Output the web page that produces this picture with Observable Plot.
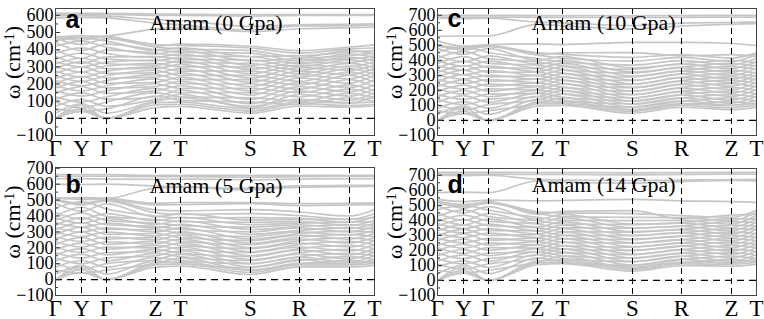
<!DOCTYPE html>
<html><head><meta charset="utf-8">
<script src="https://cdn.jsdelivr.net/npm/d3@7"></script>
<script src="https://cdn.jsdelivr.net/npm/@observablehq/plot@0.6"></script>
<style>
body{margin:0;background:#fff;font-family:"Liberation Serif",serif;}
#wrap{position:relative;width:764px;height:319px;overflow:hidden;background:#fff;}
.panel{position:absolute;}
.panel text{font-family:"Liberation Serif",serif;}
.panel text.sansb{font-family:"Liberation Sans",sans-serif;font-weight:bold;}
</style></head><body><div id="wrap"></div>
<script>
// high-symmetry path
const kLabels = ["Γ","Y","Γ","Z","T","S","R","Z","T"];
const kPos = [0, 0.26, 0.51, 1.00, 1.25, 1.95, 2.44, 2.94, 3.19];

const yTicks600 = [-100, 0, 100, 200, 300, 400, 500, 600];
const yTicks700 = [-100, 0, 100, 200, 300, 400, 500, 600, 700];
const yMinor600 = [-50, 50, 150, 250, 350, 450, 550];
const yMinor700 = [-50, 50, 150, 250, 350, 450, 550, 650];

const titles = ["Amam (0 Gpa)", "Amam (5 Gpa)", "Amam (10 Gpa)", "Amam (14 Gpa)"];
const letters = ["a", "b", "c", "d"];

// band frequencies (cm^-1) at Γ, Y, Γ, Z, T, S, R, Z, T
const bandsA = [
[0,40,0,62,70,30,72,65,72],
[0,55,0,78,82,42,85,75,82],
[0,75,0,92,95,55,95,90,95],
[30,85,30,100,120,70,110,90,130],
[55,40,55,130,105,95,80,120,100],
[70,110,70,110,140,60,140,105,150],
[95,60,95,150,125,120,100,145,115],
[110,150,110,125,165,85,160,130,170],
[125,95,125,175,150,150,125,170,140],
[145,185,145,160,190,110,185,155,195],
[160,130,160,200,175,175,150,195,160],
[175,215,178,185,215,135,210,180,225],
[190,160,190,230,200,200,170,225,185],
[205,245,205,210,240,160,235,205,250],
[220,190,220,255,225,225,195,250,210],
[232,270,235,240,265,185,255,230,270],
[248,215,248,280,250,250,215,270,235],
[262,300,262,265,290,210,275,255,290],
[275,240,275,300,275,275,240,290,255],
[290,330,290,290,315,235,295,280,310],
[302,270,305,320,300,300,260,305,275],
[318,350,318,310,335,260,310,300,330],
[330,300,328,340,325,320,280,320,295],
[345,380,345,335,355,285,325,325,350],
[360,320,358,360,345,340,300,340,315],
[380,410,378,355,375,310,340,345,365],
[400,350,398,380,365,360,320,355,335],
[420,450,415,375,395,335,350,365,380],
[440,395,432,400,385,380,335,375,355],
[455,470,450,395,410,360,365,385,395],
[468,430,465,415,405,395,355,395,375],
[472,480,475,430,425,410,380,405,410],
[475,455,478,420,432,420,395,415,428],
[478,470,480,520,528,505,522,528,532],
[585,588,585,555,545,515,538,540,545],
[598,598,595,575,570,535,545,548,550],
[605,605,605,600,600,596,600,600,600],
[612,612,612,608,606,604,604,605,605]
];
const bandsB = [
[0,45,0,78,85,32,80,80,90],
[0,62,0,92,98,45,92,92,102],
[0,82,0,105,110,58,102,105,112],
[35,90,35,118,100,75,125,95,130],
[60,40,60,100,135,60,100,120,105],
[78,120,78,140,120,100,140,110,150],
[100,65,100,125,160,80,120,145,125],
[118,160,118,165,145,120,160,130,175],
[135,100,135,150,180,100,145,165,150],
[155,195,155,190,165,145,185,155,195],
[170,135,170,175,205,125,170,190,170],
[188,230,190,215,190,170,205,180,220],
[205,170,205,200,230,150,195,215,195],
[220,265,222,240,215,195,230,205,245],
[238,205,238,225,255,175,220,240,220],
[252,300,255,265,240,220,255,230,265],
[268,240,268,250,280,200,245,262,245],
[282,330,285,290,265,245,280,255,290],
[298,270,298,275,300,228,268,285,270],
[312,360,315,315,290,270,300,280,310],
[328,300,325,300,325,255,290,305,295],
[342,390,345,335,315,300,325,300,335],
[358,330,355,325,348,285,310,325,318],
[372,420,372,355,340,330,345,320,355],
[388,355,385,348,370,315,335,345,342],
[400,455,398,378,365,360,365,340,372],
[420,380,415,370,392,345,355,362,365],
[450,490,445,400,388,390,385,360,395],
[480,430,478,395,415,375,378,380,388],
[500,470,495,420,410,415,402,378,415],
[505,480,500,438,432,440,425,400,440],
[510,505,505,470,472,478,465,470,472],
[512,515,512,480,485,485,478,480,482],
[515,512,510,575,580,565,582,585,588],
[600,598,600,588,585,575,590,592,592],
[635,635,632,630,632,628,632,635,635],
[650,650,650,648,648,645,648,650,650],
[660,660,660,655,655,655,655,655,655]
];
const bandsC = [
[0,45,0,95,100,48,88,72,90],
[0,62,0,110,112,60,100,85,102],
[0,85,0,122,125,72,112,100,115],
[40,95,40,140,115,90,130,100,135],
[65,45,65,112,150,70,105,125,110],
[82,125,82,160,135,110,150,115,160],
[105,70,105,135,175,88,128,150,130],
[122,165,122,180,155,130,170,135,180],
[140,105,140,158,198,108,150,172,155],
[158,200,158,200,178,150,192,160,205],
[175,140,175,180,220,128,172,195,178],
[192,235,195,225,200,172,215,182,230],
[210,175,210,205,245,150,195,220,200],
[225,270,228,250,222,195,240,205,255],
[242,210,242,228,268,172,220,245,225],
[258,305,260,275,245,218,262,228,280],
[272,245,272,252,290,195,242,268,248],
[288,335,290,298,268,240,285,252,302],
[302,275,302,275,312,218,265,290,270],
[318,365,320,322,290,265,308,275,325],
[335,305,332,300,335,242,288,312,292],
[350,395,352,345,315,290,330,298,348],
[365,335,362,325,358,268,310,335,315],
[380,425,380,368,340,315,352,322,370],
[398,360,395,350,380,295,332,358,340],
[415,460,412,390,365,340,375,345,392],
[432,390,430,375,402,322,355,380,362],
[455,490,452,412,390,368,398,368,415],
[480,440,478,400,425,350,378,400,385],
[495,475,492,435,415,395,420,392,438],
[500,485,498,450,440,420,438,415,450],
[505,470,500,440,450,452,430,438,425],
[530,495,505,510,505,520,520,512,500],
[560,562,562,640,630,610,628,640,645],
[680,678,680,655,650,632,648,652,655],
[688,688,688,686,686,684,686,688,688],
[700,700,700,698,698,696,698,700,700]
];
const bandsD = [
[0,48,0,105,112,62,98,95,108],
[0,66,0,118,122,75,110,108,120],
[0,88,0,130,135,88,122,120,132],
[45,100,45,150,125,100,140,115,150],
[68,48,68,122,160,80,115,140,120],
[88,130,88,172,145,125,162,128,172],
[110,75,110,145,185,102,138,162,145],
[128,170,128,192,165,148,182,150,195],
[145,110,145,168,208,125,160,185,168],
[165,205,165,212,188,172,205,172,218],
[182,145,182,190,230,150,182,208,192],
[200,240,202,235,210,198,228,195,242],
[218,180,218,215,255,175,205,232,218],
[232,275,235,258,232,222,250,218,265],
[250,215,250,238,278,200,228,255,240],
[265,310,268,282,255,248,272,240,290],
[282,250,280,262,300,225,250,278,265],
[298,340,300,305,278,272,295,262,315],
[315,285,315,285,322,250,272,300,288],
[330,372,332,330,300,298,318,285,340],
[348,315,345,308,345,275,295,322,312],
[362,405,365,352,325,322,338,308,362],
[378,345,375,332,368,300,318,345,338],
[392,435,395,375,350,348,360,330,388],
[410,370,408,355,392,325,340,368,362],
[428,470,425,398,375,372,382,352,410],
[448,400,445,380,418,350,362,392,385],
[470,500,468,420,400,398,400,375,432],
[495,450,492,405,440,375,385,412,408],
[520,490,515,445,425,420,418,398,455],
[525,505,520,458,450,445,432,420,468],
[530,480,525,440,460,465,410,435,440],
[540,525,535,530,532,540,530,525,520],
[585,588,585,662,655,648,658,665,662],
[700,698,700,672,668,665,668,670,672],
[708,708,708,705,705,702,705,708,708],
[720,720,720,718,718,716,718,720,720]
];

const panels = [
  {bands: bandsA, title: titles[0], letter: letters[0], yDomain: [-100, 640], ticks: yTicks600, minor: yMinor600,
   left: 0, top: 0, height: 160, mt: 8, mb: 25, letterBase: 19, titleBase: 21},
  {bands: bandsB, title: titles[1], letter: letters[1], yDomain: [-100, 705], ticks: yTicks700, minor: yMinor700,
   left: 0, top: 160, height: 159, mt: 7, mb: 24, letterBase: 25, titleBase: 25},
  {bands: bandsC, title: titles[2], letter: letters[2], yDomain: [-100, 745], ticks: yTicks700, minor: yMinor700,
   left: 382, top: 0, height: 160, mt: 8, mb: 25, letterBase: 18, titleBase: 21},
  {bands: bandsD, title: titles[3], letter: letters[3], yDomain: [-100, 745], ticks: yTicks700, minor: yMinor700,
   left: 382, top: 160, height: 159, mt: 8, mb: 24, letterBase: 24, titleBase: 23}
];

const serif = "Liberation Serif";
const wrap = document.getElementById("wrap");
const pxPerK = (kPos[kPos.length - 1] - kPos[0]) / 319;

for (const p of panels) {
  const rows = p.bands.flatMap((b, i) => b.map((w, j) => ({band: i, k: kPos[j], w})));
  const chart = Plot.plot({
    width: 382, height: p.height,
    marginLeft: 55, marginRight: 8, marginTop: p.mt, marginBottom: p.mb,
    style: {fontFamily: serif, fontSize: "18px", color: "#000", background: "transparent", overflow: "visible"},
    x: {domain: [kPos[0], kPos[kPos.length - 1]], axis: null},
    y: {domain: p.yDomain, label: null},
    marks: [
      Plot.line(rows, {x: "k", y: "w", z: "band", stroke: "#c6c6c6", strokeWidth: 1.7, curve: "monotone-x", clip: true}),
      Plot.ruleX(kPos.slice(1, -1), {stroke: "#000", strokeWidth: 1, strokeDasharray: "6,4"}),
      Plot.ruleY([0], {stroke: "#000", strokeWidth: 1.2, strokeDasharray: "7,5"}),
      Plot.ruleY(p.ticks, {y: d => d, x1: kPos[0], x2: kPos[0] + 5 * pxPerK, stroke: "#333"}),
      Plot.ruleY(p.minor, {y: d => d, x1: kPos[0], x2: kPos[0] + 3 * pxPerK, stroke: "#333"}),
      Plot.frame({stroke: "#444", strokeWidth: 1}),
      Plot.axisY(p.ticks, {label: null, tickSize: 0, tickPadding: 2, fontSize: 18}),
      Plot.text(kPos, {x: d => d, text: (d, i) => kLabels[i], frameAnchor: "bottom", lineAnchor: "top",
        dy: 20.5 - 0.71 * 23, fontSize: 23}),
      Plot.text([p.letter], {frameAnchor: "top-left", textAnchor: "start", lineAnchor: "top", dx: 10,
        dy: p.letterBase - 0.71 * 25, fontSize: 25}),
      Plot.text([p.title], {frameAnchor: "top-left", textAnchor: "start", lineAnchor: "top", dx: 94,
        dy: p.titleBase - 0.71 * 22, fontSize: 22})
    ]
  });
  const svg = d3.select(chart);
  // panel letter in bold sans
  svg.selectAll("text").filter(function() { return this.textContent === p.letter; })
    .attr("class", "sansb");
  // y-axis label with superscript
  const cy = (p.mt + (p.height - p.mb)) / 2 - 9;
  const lab = svg.append("text")
    .attr("transform", `translate(20,${cy}) rotate(-90)`)
    .attr("text-anchor", "middle")
    .attr("font-size", 22)
    .attr("fill", "#000");
  lab.append("tspan").text("ω (cm");
  lab.append("tspan").attr("dy", "-0.45em").attr("font-size", 14).text("-1");
  lab.append("tspan").attr("dy", "0.3em").text(")");
  chart.classList.add("panel");
  chart.style.left = p.left + "px";
  chart.style.top = p.top + "px";
  wrap.appendChild(chart);
}
</script>
</body></html>
